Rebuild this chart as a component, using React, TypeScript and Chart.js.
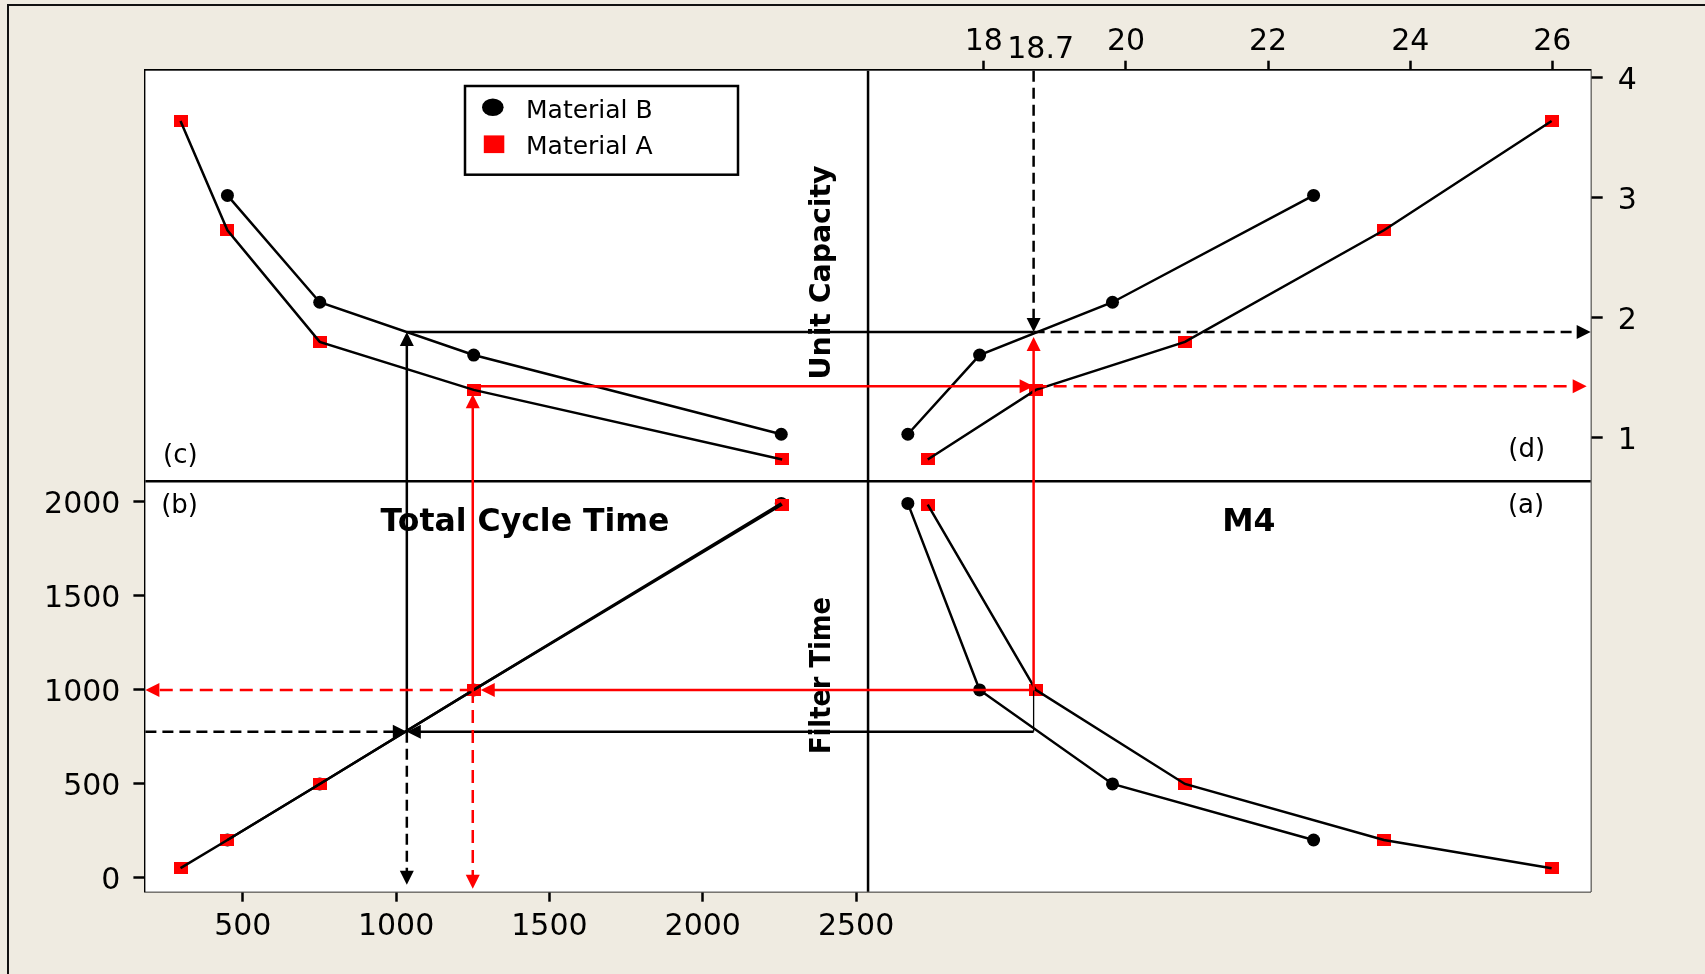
import React, { useEffect, useRef } from 'react';
import { Chart, registerables } from 'chart.js';

Chart.register(...registerables);

// Material B (black circles), one entry per filter time setting
const FILTER_TIME_B = [202, 500, 1000, 1992];
const M4_B = [22.64, 19.81, 17.94, 16.93];
const UNIT_CAPACITY_B = [3.02, 2.13, 1.69, 1.03];
const CYCLE_TIME_B = [450, 751, 1253, 2256];

// Material A (red squares)
const FILTER_TIME_A = [52, 202, 500, 1000, 1986];
const M4_A = [25.99, 23.63, 20.83, 18.73, 17.21];
const UNIT_CAPACITY_A = [3.64, 2.73, 1.8, 1.4, 0.82];
const CYCLE_TIME_A = [297, 450, 751, 1253, 2259];

const SERIES_NAMES = ['Material B', 'Material A'];

// Tick values
const CYCLE_TIME_TICKS = [500, 1000, 1500, 2000, 2500];
const FILTER_TIME_TICKS = [0, 500, 1000, 1500, 2000];
const M4_TICKS = [18, 20, 22, 24, 26];
const UNIT_CAPACITY_TICKS = [1, 2, 3, 4];

// Range each quantity covers inside its own quadrant
const CYCLE_TIME_RANGE = [182.5, 2539];
const FILTER_TIME_RANGE = [-73, 2110];
const M4_RANGE = [16.37, 26.54];
const UNIT_CAPACITY_RANGE = [0.639, 4.059];

// Graphical reading taken at M4 = 18.7, [Material B, Material A]
const READING_M4 = 18.7;
const READING_CYCLE_TIME = [1035, 1250];
const READING_FILTER_TIME = [778, 1000];
const READING_UNIT_CAPACITY = [1.883, 1.43];

const FONT = '"DejaVu Sans", Verdana, sans-serif';
const RED = '#ff0000';
const INK = '#000000';

const span = (r: number[]) => r[1] - r[0];
// Every scale runs across the whole plot; its own quadrant is one half of it.
const TCT_MIN = CYCLE_TIME_RANGE[0];
const TCT_MAX = CYCLE_TIME_RANGE[0] + 2 * span(CYCLE_TIME_RANGE);
const M4_MIN = M4_RANGE[1] - 2 * span(M4_RANGE);
const M4_MAX = M4_RANGE[1];
const FT_MIN = FILTER_TIME_RANGE[0];
const FT_MAX = FILTER_TIME_RANGE[0] + 2 * span(FILTER_TIME_RANGE);
const UC_MIN = UNIT_CAPACITY_RANGE[1] - 2 * span(UNIT_CAPACITY_RANGE);
const UC_MAX = UNIT_CAPACITY_RANGE[1];

function squareMarker(w: number, h: number, color: string) {
  const c = document.createElement('canvas');
  c.width = w;
  c.height = h;
  const g = c.getContext('2d')!;
  g.fillStyle = color;
  g.fillRect(0, 0, w, h);
  return c;
}

function axis(
  position: string,
  min: number,
  max: number,
  ticks: number[],
  size: number,
  tickLength: number,
  padding: number,
  labelOffset: number
) {
  return {
    type: 'linear',
    position,
    min,
    max,
    afterBuildTicks: (s: any) => {
      s.ticks = ticks.map((v) => ({ value: v }));
    },
    afterFit: (s: any) => {
      if (position === 'left' || position === 'right') s.width = size;
      else s.height = size;
    },
    ticks: {
      autoSkip: false,
      maxRotation: 0,
      minRotation: 0,
      color: INK,
      padding,
      labelOffset,
      font: { family: FONT, size: 30 },
      callback: (v: any) => String(v),
    },
    grid: {
      display: true,
      drawOnChartArea: false,
      drawTicks: true,
      tickLength,
      tickWidth: 2.5,
      tickColor: INK,
    },
    border: { display: true, color: INK, width: 2.5 },
  };
}

type P = { xa: string; x: number; ya: string; y: number };
type Seg = { from: P; to: P; color: string; dash?: number[]; width?: number; head?: boolean; gap?: number };
const p = (xa: string, x: number, ya: string, y: number): P => ({ xa, x, ya, y });

function readingSegments(): Seg[] {
  const [tB, tA] = READING_CYCLE_TIME;
  const [fB, fA] = READING_FILTER_TIME;
  const [uB, uA] = READING_UNIT_CAPACITY;
  const m = READING_M4;
  const dashB = [11, 6];
  const dashA = [13, 7];
  return [
    // Material B path
    { from: p('xM4', m, 'yFT', fB), to: p('xTCT', tB, 'yFT', fB), color: INK, head: true },
    { from: p('xTCT', TCT_MIN, 'yFT', fB), to: p('xTCT', tB, 'yFT', fB), color: INK, dash: dashB, head: true },
    { from: p('xTCT', tB, 'yFT', fB), to: p('xTCT', tB, 'yFT', FT_MIN), color: INK, dash: dashB, head: true, gap: 7 },
    { from: p('xTCT', tB, 'yFT', fB), to: p('xTCT', tB, 'yUC', uB), color: INK, head: true },
    { from: p('xTCT', tB, 'yUC', uB), to: p('xM4', m, 'yUC', uB), color: INK },
    { from: p('xM4', m, 'yUC', UC_MAX), to: p('xM4', m, 'yUC', uB), color: INK, dash: dashB, head: true },
    { from: p('xM4', m, 'yUC', uB), to: p('xM4', M4_MAX, 'yUC', uB), color: INK, dash: dashB, head: true },
    { from: p('xM4', m, 'yFT', fB), to: p('xM4', m, 'yFT', fA), color: INK, width: 1.3 },
    // Material A path
    { from: p('xM4', m, 'yFT', fA), to: p('xTCT', tA, 'yFT', fA), color: RED, head: true, gap: 8 },
    { from: p('xTCT', tA, 'yFT', fA), to: p('xTCT', TCT_MIN, 'yFT', fA), color: RED, dash: dashA, head: true },
    { from: p('xTCT', tA, 'yFT', fA), to: p('xTCT', tA, 'yFT', FT_MIN), color: RED, dash: dashA, head: true, gap: 3 },
    { from: p('xTCT', tA, 'yFT', fA), to: p('xTCT', tA, 'yUC', uA), color: RED, head: true, gap: 8 },
    { from: p('xTCT', tA, 'yUC', uA), to: p('xM4', m, 'yUC', uA), color: RED, head: true },
    { from: p('xM4', m, 'yUC', uA), to: p('xM4', M4_MAX, 'yUC', uA), color: RED, dash: dashA, head: true, gap: 4 },
    { from: p('xM4', m, 'yFT', fA), to: p('xM4', m, 'yUC', uB), color: RED, head: true, gap: 5 },
  ];
}

function drawSegment(chart: any, seg: Seg) {
  const ctx = chart.ctx;
  const px = (q: P) => [chart.scales[q.xa].getPixelForValue(q.x), chart.scales[q.ya].getPixelForValue(q.y)];
  const [x1, y1] = px(seg.from);
  let [x2, y2] = px(seg.to);
  const len = Math.hypot(x2 - x1, y2 - y1) || 1;
  const ux = (x2 - x1) / len;
  const uy = (y2 - y1) / len;
  const gap = seg.gap || 0;
  x2 -= ux * gap;
  y2 -= uy * gap;
  const head = seg.head ? 14 : 0;
  const hw = 7;
  ctx.save();
  ctx.strokeStyle = seg.color;
  ctx.fillStyle = seg.color;
  ctx.lineWidth = seg.width || 2.5;
  ctx.setLineDash(seg.dash || []);
  ctx.beginPath();
  ctx.moveTo(x1, y1);
  ctx.lineTo(x2 - ux * head * 0.7, y2 - uy * head * 0.7);
  ctx.stroke();
  if (head) {
    ctx.setLineDash([]);
    ctx.beginPath();
    ctx.moveTo(x2, y2);
    ctx.lineTo(x2 - ux * head - uy * hw, y2 - uy * head + ux * hw);
    ctx.lineTo(x2 - ux * head + uy * hw, y2 - uy * head - ux * hw);
    ctx.closePath();
    ctx.fill();
  }
  ctx.restore();
}

const quadrantPlugin = {
  id: 'quadrants',
  beforeDatasetsDraw(chart: any) {
    const { ctx, chartArea } = chart;
    const { left: L, top: T, right: R, bottom: B } = chartArea;
    ctx.save();
    ctx.fillStyle = '#ffffff';
    ctx.fillRect(L, T, R - L, B - T);
    // quadrant dividers
    const xd = chart.scales.xTCT.getPixelForValue(CYCLE_TIME_RANGE[1]);
    const yd = chart.scales.yFT.getPixelForValue(FILTER_TIME_RANGE[1]);
    ctx.strokeStyle = INK;
    ctx.lineWidth = 2.5;
    ctx.beginPath();
    ctx.moveTo(xd, T);
    ctx.lineTo(xd, B);
    ctx.moveTo(L, yd);
    ctx.lineTo(R, yd);
    ctx.stroke();

    ctx.fillStyle = INK;
    ctx.textAlign = 'center';
    ctx.textBaseline = 'alphabetic';
    ctx.font = `bold 31.5px ${FONT}`;
    ctx.fillText('Total Cycle Time', L + 379.6, T + 460.6);
    ctx.fillText('M4', L + 1103.5, T + 460.6);

    ctx.font = `bold 29px ${FONT}`;
    ctx.save();
    ctx.translate(L + 684.6, T + 201.8);
    ctx.rotate(-Math.PI / 2);
    ctx.fillText('Unit Capacity', 0, 0, 214);
    ctx.restore();
    ctx.save();
    ctx.translate(L + 684.6, T + 604.8);
    ctx.rotate(-Math.PI / 2);
    ctx.fillText('Filter Time', 0, 0, 157);
    ctx.restore();

    ctx.font = `26px ${FONT}`;
    ctx.fillText('(c)', L + 35, T + 392.6);
    ctx.fillText('(b)', L + 34.2, T + 442.6);
    ctx.fillText('(d)', L + 1381.3, T + 385.9);
    ctx.fillText('(a)', L + 1380.6, T + 442.6);

    // value
    ctx.font = `30px ${FONT}`;
    ctx.textBaseline = 'middle';
    ctx.fillText(String(READING_M4), chart.scales.xM4.getPixelForValue(READING_M4) + 7, T - 20.5);
    ctx.restore();
  },
  afterDatasetsDraw(chart: any) {
    readingSegments().forEach((s) => drawSegment(chart, s));

    // legend
    const { ctx, chartArea } = chart;
    const L = chartArea.left;
    const T = chartArea.top;
    ctx.save();
    const bx = L + 319.6;
    const by = T + 15.3;
    ctx.fillStyle = '#ffffff';
    ctx.fillRect(bx, by, 273, 88.7);
    ctx.strokeStyle = INK;
    ctx.lineWidth = 2.5;
    ctx.strokeRect(bx, by, 273, 88.7);
    ctx.fillStyle = INK;
    ctx.beginPath();
    ctx.ellipse(bx + 27.8, by + 21.3, 10.8, 8.8, 0, 0, Math.PI * 2);
    ctx.fill();
    ctx.fillStyle = RED;
    ctx.fillRect(bx + 18.8, by + 49.4, 20.5, 17.7);
    ctx.fillStyle = INK;
    ctx.font = `25px ${FONT}`;
    ctx.textAlign = 'left';
    ctx.textBaseline = 'alphabetic';
    ctx.fillText(SERIES_NAMES[0], bx + 61, by + 31.8);
    ctx.fillText(SERIES_NAMES[1], bx + 61, by + 67.8);
    ctx.restore();
  },
};

const pts = (xs: number[], ys: number[]) => xs.map((x, i) => ({ x, y: ys[i] }));

function buildDatasets() {
  const square = squareMarker(14, 12, RED);
  const panels = [
    { x: 'xTCT', y: 'yUC', b: pts(CYCLE_TIME_B, UNIT_CAPACITY_B), a: pts(CYCLE_TIME_A, UNIT_CAPACITY_A) },
    { x: 'xM4', y: 'yUC', b: pts(M4_B, UNIT_CAPACITY_B), a: pts(M4_A, UNIT_CAPACITY_A) },
    { x: 'xTCT', y: 'yFT', b: pts(CYCLE_TIME_B, FILTER_TIME_B), a: pts(CYCLE_TIME_A, FILTER_TIME_A) },
    { x: 'xM4', y: 'yFT', b: pts(M4_B, FILTER_TIME_B), a: pts(M4_A, FILTER_TIME_A) },
  ];
  const out: any[] = [];
  panels.forEach((pn) => {
    [
      { name: SERIES_NAMES[0], data: pn.b, style: 'circle', order: 2 },
      { name: SERIES_NAMES[1], data: pn.a, style: square, order: 1 },
    ].forEach((s) => {
      out.push({
        label: s.name,
        data: s.data,
        xAxisID: pn.x,
        yAxisID: pn.y,
        showLine: true,
        borderColor: INK,
        borderWidth: 2.5,
        pointRadius: 0,
        order: 0,
      });
      out.push({
        label: s.name,
        data: s.data,
        xAxisID: pn.x,
        yAxisID: pn.y,
        showLine: false,
        pointStyle: s.style,
        pointRadius: 6.5,
        pointBackgroundColor: s.style === 'circle' ? INK : RED,
        pointBorderWidth: 0,
        order: s.order,
      });
    });
  });
  return out;
}

export default function App() {
  const ref = useRef<HTMLCanvasElement>(null);
  useEffect(() => {
    const canvas = ref.current;
    if (!canvas) return;
    const chart = new Chart(canvas, {
      type: 'scatter',
      data: { datasets: buildDatasets() },
      options: {
        responsive: false,
        animation: false,
        devicePixelRatio: 1,
        events: [],
        layout: { padding: 0 },
        plugins: { legend: { display: false }, tooltip: { enabled: false } },
        scales: {
          xTCT: axis('bottom', TCT_MIN, TCT_MAX, CYCLE_TIME_TICKS, 82.3, 10, 8, 0),
          xM4: axis('top', M4_MIN, M4_MAX, M4_TICKS, 70.7, 10, 0, 0),
          yFT: axis('left', FT_MIN, FT_MAX, FILTER_TIME_TICKS, 145.4, 12, 13, 3),
          yUC: axis('right', UC_MIN, UC_MAX, UNIT_CAPACITY_TICKS, 114.3, 12, 15, 3),
        } as any,
      },
      plugins: [quadrantPlugin],
    } as any);
    return () => chart.destroy();
  }, []);
  return (
    <div
      style={{
        position: 'fixed',
        left: 0,
        top: 0,
        width: 1705,
        height: 974,
        overflow: 'hidden',
        background: '#EFEBE1',
      }}
    >
      <div
        style={{
          position: 'absolute',
          left: 7,
          top: 3.5,
          width: 1800,
          height: 1100,
          border: '2.7px solid #111',
          boxSizing: 'border-box',
        }}
      />
      <canvas ref={ref} width={1705} height={974} style={{ position: 'absolute', left: 0, top: 0 }} />
    </div>
  );
}
